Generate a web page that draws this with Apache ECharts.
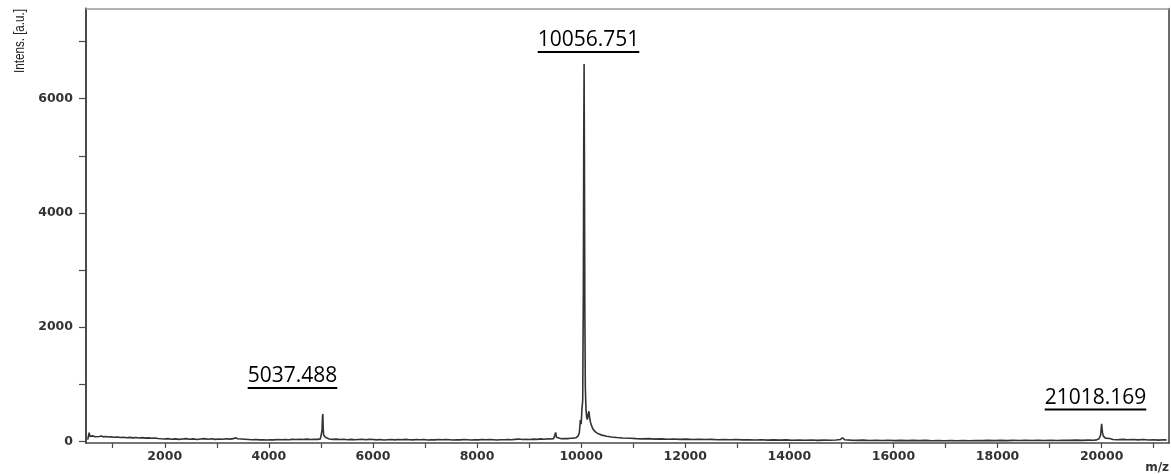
<!DOCTYPE html>
<html>
<head>
<meta charset="utf-8">
<script src="https://cdn.jsdelivr.net/npm/echarts@6/dist/echarts.min.js"></script>
<style>
  html, body { margin: 0; padding: 0; background: #ffffff; }
  #chart { width: 1171px; height: 474px; }
</style>
</head>
<body>
<div id="chart"></div>
<script>
// Mass spectrum, [m/z, intensity] pairs, split into regions of the trace.
const segLowMass = [
  [520, 30], [535, 95], [548, 150], [560, 85], [580, 70], [610, 95], [640, 110], [665, 80],
  [700, 100], [740, 85], [780, 92], [820, 78], [870, 84], [920, 74], [970, 80], [1030, 70],
  [1090, 76], [1150, 66], [1210, 72], [1270, 62], [1330, 68], [1390, 60], [1450, 66], [1510, 58],
  [1570, 64], [1630, 55], [1690, 60], [1750, 52], [1810, 58], [1870, 50], [1930, 44], [1990, 40],
  [2060, 46], [2130, 36], [2200, 42], [2270, 34], [2340, 40], [2410, 46], [2480, 36], [2550, 42],
  [2620, 32], [2690, 40], [2760, 46], [2830, 36], [2900, 44], [2970, 34], [3040, 40], [3110, 36],
  [3180, 44], [3250, 38], [3320, 46], [3360, 62], [3400, 44], [3470, 40], [3540, 36], [3610, 32],
  [3680, 26], [3750, 30], [3820, 24], [3890, 28], [3960, 22], [4030, 28], [4100, 24], [4170, 30],
  [4240, 26], [4310, 32], [4380, 28], [4450, 34], [4520, 30], [4590, 36], [4660, 32], [4730, 38],
  [4800, 30], [4870, 36], [4940, 34], [4990, 42]
];
const peakA = [
  [5010, 70], [5022, 190], [5030, 420], [5037.488, 479], [5044, 230], [5052, 110], [5065, 85],
  [5085, 70], [5110, 58]
];
const segMid = [
  [5160, 40], [5230, 34], [5300, 38], [5370, 30], [5440, 36], [5510, 28], [5580, 34], [5650, 26],
  [5720, 32], [5790, 36], [5860, 28], [5930, 34], [6000, 30], [6070, 24], [6140, 30], [6210, 22],
  [6280, 28], [6350, 32], [6420, 24], [6490, 30], [6560, 26], [6630, 34], [6700, 28], [6770, 24],
  [6840, 30], [6910, 26], [6980, 32], [7050, 22], [7120, 28], [7190, 24], [7260, 30], [7330, 26],
  [7400, 32], [7470, 28], [7540, 22], [7610, 28], [7680, 24], [7750, 30], [7820, 26], [7890, 22],
  [7960, 28], [8030, 24], [8100, 30], [8170, 26], [8240, 32], [8310, 28], [8380, 22], [8450, 28],
  [8520, 26], [8590, 32], [8660, 28], [8730, 34], [8800, 40], [8870, 30], [8940, 36], [9010, 32],
  [9080, 38], [9150, 34], [9220, 42], [9290, 36], [9360, 44], [9420, 40], [9470, 46], [9495, 80],
  [9510, 155], [9525, 70], [9560, 48], [9620, 44], [9680, 50], [9740, 46], [9800, 52], [9850, 56]
];
const peakB = [
  [9900, 62], [9940, 90], [9965, 150], [9985, 370], [10000, 300], [10015, 560], [10030, 720],
  [10042, 2600], [10050, 5300], [10056.751, 6609], [10063, 5000], [10071, 2300], [10080, 950],
  [10093, 560], [10106, 420], [10118, 380], [10134, 470], [10150, 525], [10166, 390], [10183, 322],
  [10205, 260], [10234, 205], [10280, 160], [10330, 130], [10400, 108], [10490, 88], [10580, 76],
  [10683, 66], [10800, 58], [10939, 52]
];
const segHigh = [
  [11060, 46], [11180, 42], [11300, 46], [11420, 38], [11540, 42], [11660, 36], [11780, 40],
  [11900, 34], [12020, 38], [12140, 32], [12260, 36], [12380, 30], [12500, 34], [12620, 28],
  [12740, 32], [12860, 26], [12980, 30], [13100, 24], [13220, 28], [13340, 22], [13460, 26],
  [13580, 20], [13700, 24], [13820, 20], [13940, 24], [14060, 18], [14180, 22], [14300, 18],
  [14420, 22], [14540, 16], [14660, 20], [14780, 18], [14900, 22], [14980, 30], [15020, 62],
  [15060, 28], [15180, 20], [15300, 16], [15420, 20], [15540, 14], [15660, 18], [15780, 14],
  [15900, 18], [16020, 12], [16140, 16], [16260, 12], [16380, 16], [16500, 12], [16620, 16],
  [16740, 10], [16860, 14], [16980, 10], [17100, 14], [17220, 10], [17340, 14], [17460, 10],
  [17580, 14], [17700, 12], [17820, 16], [17940, 12], [18060, 16], [18180, 12], [18300, 16],
  [18420, 14], [18540, 18], [18660, 14], [18780, 18], [18900, 14], [19020, 18], [19140, 14],
  [19260, 18], [19380, 16], [19500, 20], [19620, 16], [19740, 20], [19850, 18]
];
const peakC = [
  [19905, 25], [19950, 45], [19980, 110], [20000, 304], [20015, 160], [20030, 95], [20045, 88],
  [20070, 55], [20097, 42], [20150, 48], [20219, 32]
];
const segTail = [
  [20300, 28], [20400, 34], [20500, 26], [20600, 32], [20700, 24], [20800, 30], [20900, 22],
  [21000, 28], [21100, 20], [21200, 26], [21250, 22]
];

// Axis ranges and tick values
const xRange = [487, 21294];
const yRange = [-30, 7580];
const xTickValues = [1000, 2000, 3000, 4000, 5000, 6000, 7000, 8000, 9000, 10000, 11000,
  12000, 13000, 14000, 15000, 16000, 17000, 18000, 19000, 20000, 21000];
const xLabelValues = [2000, 4000, 6000, 8000, 10000, 12000, 14000, 16000, 18000, 20000];
const yTickValues = [0, 1000, 2000, 3000, 4000, 5000, 6000, 7000];
const yLabelValues = [0, 2000, 4000, 6000];

// Peak annotations: text, and the m/z / intensity point under the middle of the underline
const peakLabelText = ['10056.751', '5037.488', '21018.169'];
const peakLabelMz = [10141, 4454, 19882];
const peakLabelIntensity = [6819, 934, 555];

const spectrum = [].concat(segLowMass, peakA, segMid, peakB, segHigh, peakC, segTail);

const plainNumber = function (v) { return String(v); };
const TICK_FONT = { fontFamily: 'DejaVu Sans', fontWeight: 'bold', fontSize: 12.5, color: '#333333', formatter: plainNumber };
const PEAK_FONT = '21px "Open Sans"';

const chart = echarts.init(document.getElementById('chart'), null, { renderer: 'canvas' });

chart.setOption({
  animation: false,
  backgroundColor: '#ffffff',
  grid: { left: 86, right: 2, top: 8.5, bottom: 31, containLabel: false, outerBoundsMode: 'none' },
  xAxis: [
    {
      type: 'value', position: 'bottom', min: xRange[0], max: xRange[1],
      axisLine: { show: true, onZero: false, lineStyle: { color: '#4a4a4a', width: 1.5 } },
      axisTick: { show: true, customValues: xTickValues, length: 5, lineStyle: { color: '#4a4a4a', width: 1.2 } },
      axisLabel: Object.assign({ customValues: xLabelValues, margin: 7 }, TICK_FONT),
      splitLine: { show: false }
    },
    {
      type: 'value', position: 'top', min: xRange[0], max: xRange[1],
      axisLine: { show: true, onZero: false, lineStyle: { color: '#9a9a9a', width: 1.5 } },
      axisTick: { show: false }, axisLabel: { show: false }, splitLine: { show: false }
    }
  ],
  yAxis: [
    {
      type: 'value', position: 'left', min: yRange[0], max: yRange[1],
      axisLine: { show: true, onZero: false, lineStyle: { color: '#4a4a4a', width: 2 } },
      axisTick: { show: true, customValues: yTickValues, length: 7, lineStyle: { color: '#4a4a4a', width: 1.2 } },
      axisLabel: Object.assign({ customValues: yLabelValues, margin: 13 }, TICK_FONT),
      splitLine: { show: false }
    },
    {
      type: 'value', position: 'right', min: yRange[0], max: yRange[1],
      axisLine: { show: true, onZero: false, lineStyle: { color: '#3a3a3a', width: 1.5 } },
      axisTick: { show: false }, axisLabel: { show: false }, splitLine: { show: false }
    }
  ],
  series: [
    {
      type: 'line', xAxisIndex: 0, yAxisIndex: 0,
      data: spectrum, showSymbol: false, symbol: 'none', smooth: false,
      lineStyle: { color: '#333333', width: 1.6 },
      silent: true
    }
  ]
});

// Underlined peak labels, placed through the series' coordinate system
const measureCtx = document.createElement('canvas').getContext('2d');
measureCtx.font = PEAK_FONT;
const graphics = [];
peakLabelText.forEach(function (t, i) {
  const p = chart.convertToPixel({ seriesIndex: 0 }, [peakLabelMz[i], peakLabelIntensity[i]]);
  const w = measureCtx.measureText(t).width;
  graphics.push({
    type: 'text', x: p[0], y: p[1] - 1, silent: true,
    style: { text: t, font: PEAK_FONT, fill: '#000000', align: 'center', verticalAlign: 'bottom' }
  });
  graphics.push({
    type: 'line', silent: true,
    shape: { x1: p[0] - w / 2, y1: p[1], x2: p[0] + w / 2, y2: p[1] },
    style: { stroke: '#000000', lineWidth: 2 }
  });
});
// Axis titles
graphics.push({
  type: 'text', x: 20, y: 41, rotation: Math.PI / 2, scaleX: 0.8, silent: true,
  style: { text: 'Intens. [a.u.]', font: '14.5px "Liberation Sans"', fill: '#222222', align: 'center', verticalAlign: 'middle' }
});
graphics.push({
  type: 'text', x: 1169, y: 468, silent: true,
  style: { text: 'm/z', font: 'bold 12px "DejaVu Sans"', fill: '#333333', align: 'right', verticalAlign: 'middle' }
});
chart.setOption({ graphic: graphics });
</script>
</body>
</html>
